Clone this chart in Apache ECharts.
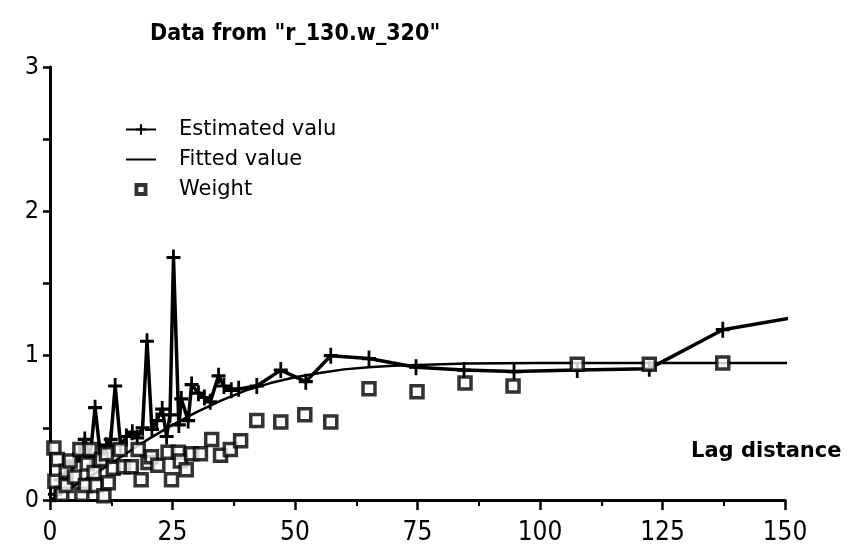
<!DOCTYPE html>
<html>
<head>
<meta charset="utf-8">
<script src="https://cdn.jsdelivr.net/npm/echarts@6/dist/echarts.min.js"></script>
<style>
  html, body { margin: 0; padding: 0; background: #fff; }
  #chart { width: 848px; height: 548px; }
</style>
</head>
<body>
<div id="chart"></div>
<script>
// Variogram of lag distance: estimated values, fitted model and weights
const titleText = 'Data from "r_130.w_320"';
const axisName = 'Lag distance';
const seriesNames = ['Estimated valu', 'Fitted value', 'Weight'];
const xTicks = [0, 25, 50, 75, 100, 125, 150];
const yTicks = [0, 1, 2, 3];

// [lag, value]
const estimated = [
  [1.0, 0.04], [2.2, 0.14], [3.5, 0.22], [4.8, 0.27], [6.0, 0.32], [7.1, 0.42],
  [8.2, 0.30], [9.2, 0.64], [10.3, 0.31], [11.5, 0.38], [12.4, 0.42], [13.3, 0.79],
  [14.4, 0.38], [15.6, 0.44], [16.8, 0.47], [17.8, 0.43], [18.9, 0.50], [19.8, 1.10],
  [20.8, 0.49], [21.8, 0.55], [22.9, 0.63], [23.8, 0.44], [24.5, 0.59], [25.2, 1.68],
  [26.3, 0.52], [26.8, 0.70], [28.2, 0.55], [28.9, 0.80], [30.3, 0.74], [31.5, 0.71],
  [32.7, 0.68], [34.4, 0.86], [35.5, 0.79], [37.0, 0.76], [38.5, 0.77], [42.2, 0.79],
  [47.1, 0.90], [52.2, 0.82], [57.3, 1.00], [65.1, 0.98], [74.7, 0.92], [84.5, 0.90],
  [94.7, 0.89], [107.6, 0.90], [122.3, 0.91], [137.3, 1.18], [151.0, 1.26]
];

const fitted = [
  [0, 0.0], [5, 0.10], [10, 0.20], [15, 0.31], [20, 0.42], [25, 0.52], [30, 0.61],
  [35, 0.69], [40, 0.76], [45, 0.81], [50, 0.85], [55, 0.88], [60, 0.905], [65, 0.92],
  [70, 0.93], [75, 0.935], [85, 0.945], [100, 0.95], [125, 0.95], [151, 0.95]
];

const weight = [
  [0.8, 0.36], [1.0, 0.13], [1.5, 0.28], [2.4, 0.04], [3.3, 0.20], [3.3, 0.10],
  [4.1, 0.27], [5.0, 0.16], [6.1, 0.35], [6.5, 0.04], [7.2, 0.10], [7.6, 0.25],
  [8.2, 0.35], [9.0, 0.19], [9.4, 0.10], [10.5, 0.28], [11.0, 0.03], [11.5, 0.32],
  [11.9, 0.12], [12.9, 0.22], [14.3, 0.35], [15.0, 0.23], [16.6, 0.23], [18.0, 0.35],
  [18.6, 0.14], [20.0, 0.26], [20.7, 0.30], [22.0, 0.24], [24.1, 0.33], [24.8, 0.14],
  [26.2, 0.33], [26.6, 0.27], [27.8, 0.21], [28.9, 0.32], [30.7, 0.32], [33.0, 0.42],
  [34.8, 0.31], [36.8, 0.35], [38.9, 0.41], [42.2, 0.55], [47.1, 0.54], [52.0, 0.59],
  [57.3, 0.54], [65.1, 0.77], [74.9, 0.75], [84.7, 0.81], [94.5, 0.79],
  [107.6, 0.94], [122.3, 0.94], [137.3, 0.95]
];

const crossPath = 'path://M4,0H6V4H10V6H6V10H4V6H0V4H4Z';
// hollow square used as the weight key
const ringPath = 'path://M0,0H10V10H0Z M3,3V7H7V3Z';
const baseFont = 'DejaVu Sans, Verdana, sans-serif';
const narrowFont = 'Liberation Sans Narrow, DejaVu Sans Condensed, sans-serif';

const chart = echarts.init(document.getElementById('chart'), null, { renderer: 'canvas' });

chart.setOption({
  backgroundColor: '#fff',
  animation: false,
  title: {
    text: titleText,
    left: 145,
    top: 18,
    textStyle: {
      fontFamily: 'DejaVu Sans Condensed, DejaVu Sans, sans-serif',
      fontSize: 23,
      fontWeight: 'bold',
      color: '#000'
    }
  },
  legend: {
    orient: 'vertical',
    left: 120,
    top: 114,
    itemWidth: 30,
    itemHeight: 13,
    itemGap: 9,
    symbolKeepAspect: true,
    data: [
      { name: seriesNames[0] },
      { name: seriesNames[1], itemStyle: { opacity: 0 } },
      { name: seriesNames[2], icon: ringPath, itemStyle: { color: '#000', borderWidth: 0 } }
    ],
    textStyle: { fontFamily: baseFont, fontSize: 21, color: '#000', padding: [0, 0, 0, 18] }
  },
  grid: { left: 50, right: 63, top: 67, bottom: 48 },
  xAxis: {
    type: 'value',
    min: xTicks[0],
    max: xTicks[xTicks.length - 1],
    interval: xTicks[1] - xTicks[0],
    axisLine: { show: true, lineStyle: { color: '#000', width: 3 } },
    axisTick: { show: true, length: 10, lineStyle: { color: '#000', width: 2.5 } },
    minorTick: { show: true, splitNumber: 2, length: 6, lineStyle: { color: '#000', width: 2 } },
    splitLine: { show: false },
    axisLabel: {
      margin: 20,
      fontFamily: narrowFont,
      fontSize: 26,
      color: '#000'
    }
  },
  yAxis: {
    type: 'value',
    min: yTicks[0],
    max: yTicks[yTicks.length - 1],
    interval: yTicks[1] - yTicks[0],
    axisLine: { show: true, lineStyle: { color: '#000', width: 3 } },
    axisTick: { show: true, length: 7, lineStyle: { color: '#000', width: 2.5 } },
    minorTick: { show: true, splitNumber: 2, length: 7, lineStyle: { color: '#000', width: 2.5 } },
    splitLine: { show: false },
    axisLabel: { margin: 11, fontFamily: narrowFont, fontSize: 25, color: '#000' }
  },
  graphic: [{
    type: 'text',
    left: 691,
    top: 441,
    style: {
      text: axisName,
      fontFamily: baseFont,
      fontSize: 21,
      fontWeight: 'bold',
      fill: '#000'
    }
  }],
  series: [
    {
      name: seriesNames[0],
      type: 'line',
      data: estimated.map((p, i) => i === estimated.length - 1 ? { value: p, symbol: 'none' } : p),
      clip: false,
      symbol: crossPath,
      symbolSize: [14, 16],
      showAllSymbol: true,
      lineStyle: { color: '#000', width: 3.5 },
      itemStyle: { color: '#000' },
      z: 3
    },
    {
      name: seriesNames[1],
      type: 'line',
      data: fitted,
      clip: false,
      symbol: 'none',
      lineStyle: { color: '#000', width: 2.5 },
      itemStyle: { color: '#000' },
      z: 2
    },
    {
      name: seriesNames[2],
      type: 'scatter',
      data: weight,
      symbol: 'rect',
      symbolSize: 12,
      itemStyle: { color: '#fff', borderColor: '#000', borderWidth: 3.5 },
      z: 4
    }
  ]
});
</script>
</body>
</html>
